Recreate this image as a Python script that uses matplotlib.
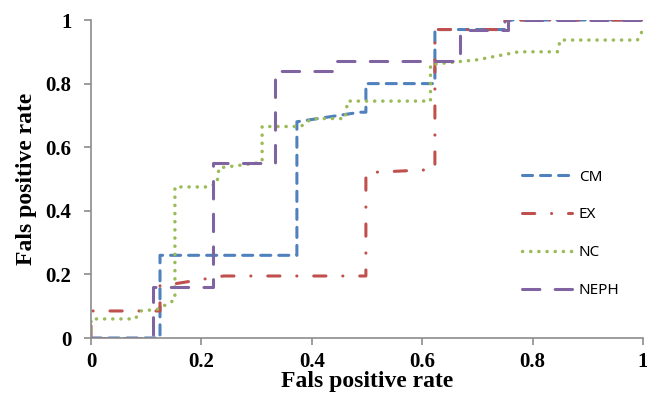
import matplotlib
matplotlib.use('Agg')
import matplotlib.pyplot as plt

# --- data ---
cm_x = [0, 0.125, 0.125, 0.373, 0.373, 0.487, 0.498, 0.498, 0.623, 0.623, 0.75, 0.75, 1]
cm_y = [0, 0, 0.26, 0.26, 0.68, 0.71, 0.71, 0.80, 0.80, 0.97, 0.97, 1, 1]

ex_x = [0, 0, 0.125, 0.125, 0.15, 0.24, 0.498, 0.498, 0.623, 0.623, 0.75, 0.75, 1]
ex_y = [0, 0.085, 0.085, 0.165, 0.17, 0.195, 0.195, 0.52, 0.53, 0.97, 0.97, 1, 1]

nc_x = [0, 0, 0.08, 0.09, 0.12, 0.152, 0.152, 0.21, 0.228, 0.232, 0.30, 0.31, 0.31,
        0.38, 0.40, 0.46, 0.465, 0.615, 0.615, 0.70, 0.775, 0.845, 0.85, 0.99, 1]
nc_y = [0, 0.06, 0.06, 0.085, 0.09, 0.12, 0.475, 0.475, 0.485, 0.535, 0.55, 0.555, 0.665,
        0.665, 0.69, 0.69, 0.745, 0.745, 0.86, 0.875, 0.90, 0.90, 0.937, 0.937, 0.97]

neph_x = [0, 0.112, 0.112, 0.221, 0.221, 0.333, 0.333, 0.44, 0.44, 0.668, 0.668, 0.755, 0.755, 1]
neph_y = [0, 0, 0.16, 0.16, 0.55, 0.55, 0.84, 0.84, 0.87, 0.87, 0.97, 0.97, 1, 1]

labels = ['CM', 'EX', 'NC', 'NEPH']
ticks = [0, 0.2, 0.4, 0.6, 0.8, 1]
tick_labels = ['0', '0.2', '0.4', '0.6', '0.8', '1']

fig = plt.figure(figsize=(6.47, 3.94), dpi=100)
ax = fig.add_axes([91 / 647, 56 / 394, 552 / 647, 318 / 394])

ax.plot(cm_x, cm_y, color='#4F81BD', lw=2.2, ls=(0, (3.3, 2.6)),
        dash_capstyle='round', label=labels[0])
ax.plot(ex_x, ex_y, color='#C0504D', lw=2.2, ls=(0, (4, 5.5, 0.05, 5.5)),
        dash_capstyle='round', label=labels[1])
ax.plot(nc_x, nc_y, color='#9BBB59', lw=2.5, ls=(0, (0.05, 2.3)),
        dash_capstyle='round', label=labels[2])
ax.plot(neph_x, neph_y, color='#8064A2', lw=2.2, ls=(0, (5.7, 5)),
        dash_capstyle='round', label=labels[3])

ax.set_xlim(0, 1)
ax.set_ylim(0, 1)
ax.set_xticks(ticks)
ax.set_yticks(ticks)
ax.set_xticklabels(tick_labels)
ax.set_yticklabels(tick_labels)

for side in ['top', 'right']:
    ax.spines[side].set_visible(False)
for side in ['left', 'bottom']:
    ax.spines[side].set_color('#8C8C8C')
    ax.spines[side].set_linewidth(1.2)
ax.tick_params(direction='out', length=5, width=1.2, color='#8C8C8C')
ax.tick_params(axis='y', pad=9)
ax.tick_params(axis='x', pad=5)
for t in ax.get_xticklabels() + ax.get_yticklabels():
    t.set_fontfamily('Liberation Serif')
    t.set_fontweight('bold')
    t.set_fontsize(15)

ax.set_xlabel('Fals positive rate', fontfamily='Liberation Serif',
              fontweight='bold', fontsize=17, labelpad=-0.5)
ax.set_ylabel('Fals positive rate', fontfamily='Liberation Serif',
              fontweight='bold', fontsize=17, labelpad=6)

leg = ax.legend(loc='upper left', bbox_to_anchor=(0.755, 0.573), frameon=False,
                prop={'family': 'Noto Sans', 'size': 11}, handlelength=3.3,
                labelspacing=1.5, handletextpad=0.45)

fig.savefig('out.png', dpi=100, facecolor='white')
